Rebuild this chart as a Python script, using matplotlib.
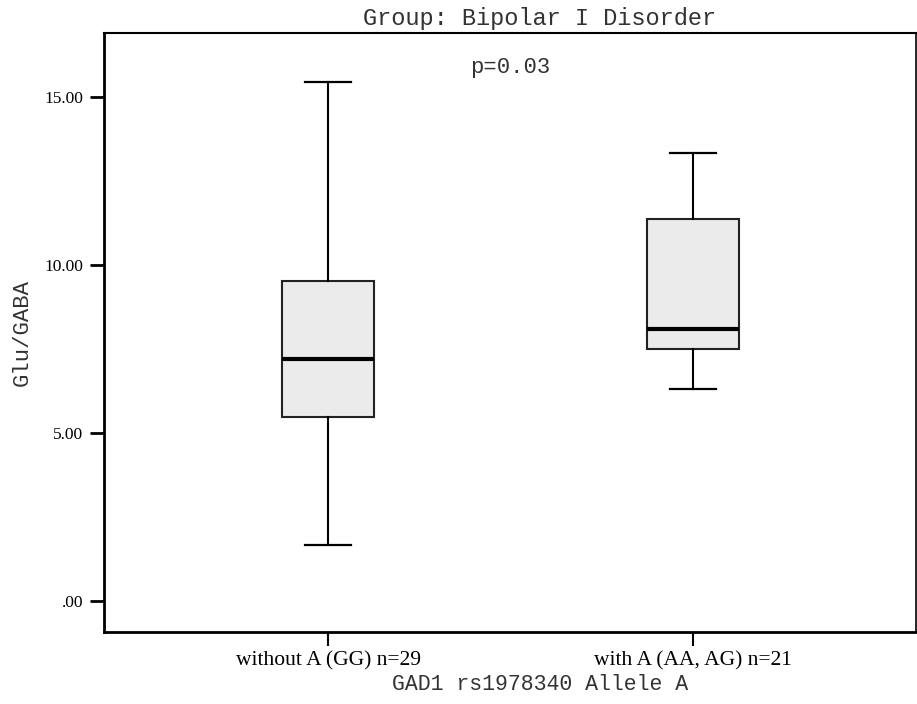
import matplotlib

matplotlib.use("Agg")
import matplotlib.pyplot as plt

# Glu/GABA by GAD1 rs1978340 genotype (Bipolar I)
groups = ["without A (GG) n=29", "with A (AA, AG) n=21"]
whisker_low = [1.67, 6.31]
q1 = [5.48, 7.50]
median = [7.20, 8.10]
q3 = [9.52, 11.37]
whisker_high = [15.45, 13.33]
yticks = [0, 5, 10, 15]
ytick_labels = [".00", "5.00", "10.00", "15.00"]

serif = "Liberation Serif"
mono = "Liberation Mono"

fig = plt.figure(figsize=(9.17, 7.04), dpi=100)
ax = fig.add_axes([104 / 917, 1 - 632 / 704, 812 / 917, 599 / 704])

stats = []
for i, g in enumerate(groups):
    stats.append({
        "label": g,
        "whislo": whisker_low[i],
        "q1": q1[i],
        "med": median[i],
        "q3": q3[i],
        "whishi": whisker_high[i],
        "fliers": [],
    })

positions = [1, 2]
ax.bxp(stats, positions=positions, widths=0.252, patch_artist=True,
       showfliers=False, capwidths=0.126,
       boxprops=dict(facecolor="#ebebeb", edgecolor="#222222", linewidth=1.5),
       medianprops=dict(color="black", linewidth=3),
       whiskerprops=dict(color="black", linewidth=1.5),
       capprops=dict(color="black", linewidth=1.6))

ax.set_xlim(0.386, 2.611)
ax.set_ylim(-0.92, 16.90)

ax.set_yticks(yticks)
ax.set_yticklabels(ytick_labels, fontfamily=serif, fontsize=12.5)
ax.set_xticks(positions)
ax.set_xticklabels(groups, fontfamily=serif, fontsize=15.5)
ax.tick_params(axis="y", direction="out", length=10, width=2, pad=5)
ax.tick_params(axis="x", direction="out", length=10, width=1.5, pad=4)

for side in ["left", "bottom"]:
    ax.spines[side].set_linewidth(2)
ax.spines["top"].set_linewidth(1.5)
ax.spines["right"].set_linewidth(1.2)

ax.set_ylabel("Glu/GABA", fontfamily=mono, fontsize=16, labelpad=8,
              color="#333333")
ax.text(0.5, 0.942, "p=0.03", transform=ax.transAxes, ha="center",
        va="center", fontfamily=mono, fontsize=16, color="#333333")

fig.text(540 / 917, 1 - 19 / 704, "Group: Bipolar I Disorder", ha="center",
         va="center", fontfamily=mono, fontsize=17, color="#333333")
fig.text(540 / 917, 1 - 685 / 704, "GAD1 rs1978340 Allele A", ha="center",
         va="center", fontfamily=mono, fontsize=15.5, color="#333333")

fig.savefig("out.png", dpi=100)
